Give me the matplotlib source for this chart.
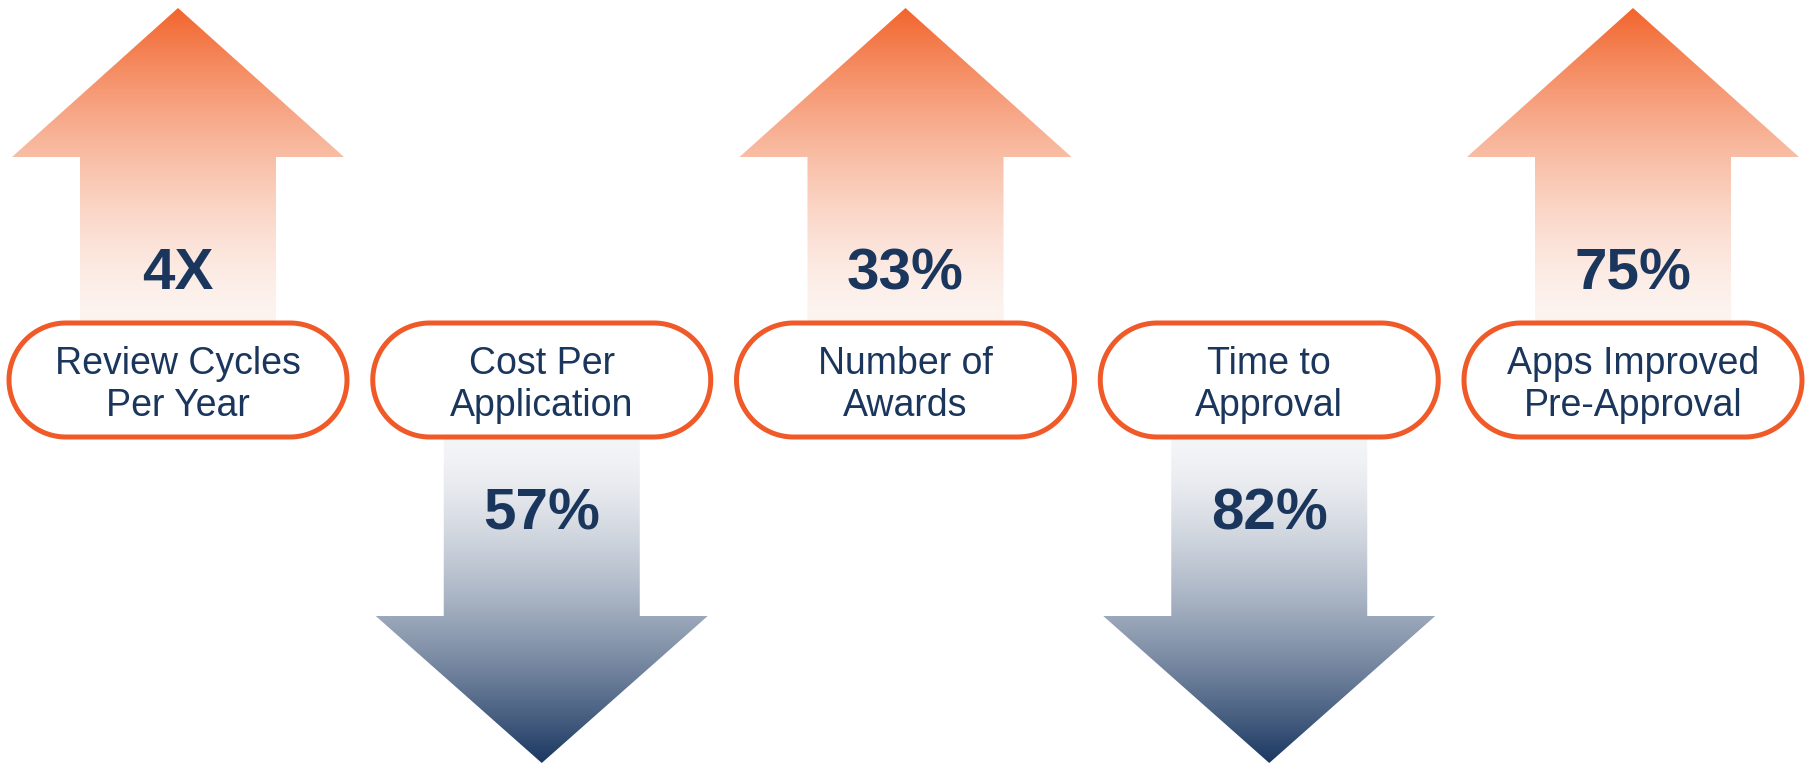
import numpy as np
import matplotlib
matplotlib.use("Agg")
import matplotlib.pyplot as plt
from matplotlib.patches import Polygon

# -------------------------------
# Data
# -------------------------------
labels = ["Review Cycles\nPer Year", "Cost Per\nApplication", "Number of\nAwards",
          "Time to\nApproval", "Apps Improved\nPre-Approval"]
values = ["4X", "57%", "33%", "82%", "75%"]
directions = ["up", "down", "up", "down", "up"]

NAVY = "#1B365D"
ORANGE_EDGE = "#F05A28"
ORANGE_TOP = np.array([242, 101, 45]) / 255
ORANGE_LIGHT = np.array([253, 244, 240]) / 255
NAVY_TIP = np.array([27, 56, 98]) / 255
NAVY_LIGHT = np.array([244, 245, 247]) / 255

plt.rcParams["font.family"] = ["Liberation Sans", "DejaVu Sans"]

W, H = 1808, 764
fig = plt.figure(figsize=(W / 100, H / 100), dpi=100)
ax = fig.add_axes([0, 0, 1, 1])
ax.set_xlim(0, W)
ax.set_ylim(H, 0)
ax.axis("off")

# layout
x0, step = 178, 363.75
pill_y, pill_h, pill_w = 380, 114, 338
head_hw, shaft_hw = 166, 98


def gradient_arrow(cx, direction):
    if direction == "up":
        tip, base, end, lo = 8, 157, pill_y, 322
        c_far, c_near = ORANGE_TOP, ORANGE_LIGHT
    else:
        tip, base, end, lo = 763, 616, pill_y, 438
        c_far, c_near = NAVY_TIP, NAVY_LIGHT
    pts = [(cx, tip), (cx + head_hw, base), (cx + shaft_hw, base), (cx + shaft_hw, end),
           (cx - shaft_hw, end), (cx - shaft_hw, base), (cx - head_hw, base)]
    poly = Polygon(pts, closed=True, facecolor="none", edgecolor="none")
    ax.add_patch(poly)

    # gradient: light near the pill, strong at the tip
    top, bot = min(tip, end), max(tip, end)
    ys = np.linspace(top, bot, 400)
    f = np.clip((ys - lo) / (tip - lo), 0, 1) ** 1.5
    cols = c_near[None, :] + (c_far - c_near)[None, :] * f[:, None]
    img = np.repeat(cols[:, None, :], 2, axis=1)
    im = ax.imshow(img, extent=[cx - head_hw, cx + head_hw, bot, top],
                   aspect="auto", interpolation="bilinear", zorder=1)
    im.set_clip_path(poly)


def stadium(cx, cy, w, h):
    r = h / 2
    t = np.linspace(-np.pi / 2, np.pi / 2, 60)
    right = np.column_stack([cx + w / 2 - r + r * np.cos(t), cy + r * np.sin(t)])
    left = np.column_stack([cx - w / 2 + r - r * np.cos(t), cy - r * np.sin(t)])
    return np.vstack([right, left])


for i, (lab, val, d) in enumerate(zip(labels, values, directions)):
    cx = x0 + step * i
    gradient_arrow(cx, d)

    ax.add_patch(Polygon(stadium(cx, pill_y, pill_w, pill_h), closed=True,
                         facecolor="white", edgecolor=ORANGE_EDGE, linewidth=3.6,
                         zorder=3))

    lines = lab.split("\n")
    for j, line in enumerate(lines):
        ax.text(cx, pill_y + (j - 0.5) * 41 + 1, line, ha="center", va="center_baseline",
                fontsize=27, color=NAVY, zorder=4)

    vy = 268 if d == "up" else 508
    ax.text(cx, vy, val, ha="center", va="center_baseline", fontsize=42,
            fontweight="bold", color=NAVY, zorder=4)

fig.savefig("out.png", dpi=100)
